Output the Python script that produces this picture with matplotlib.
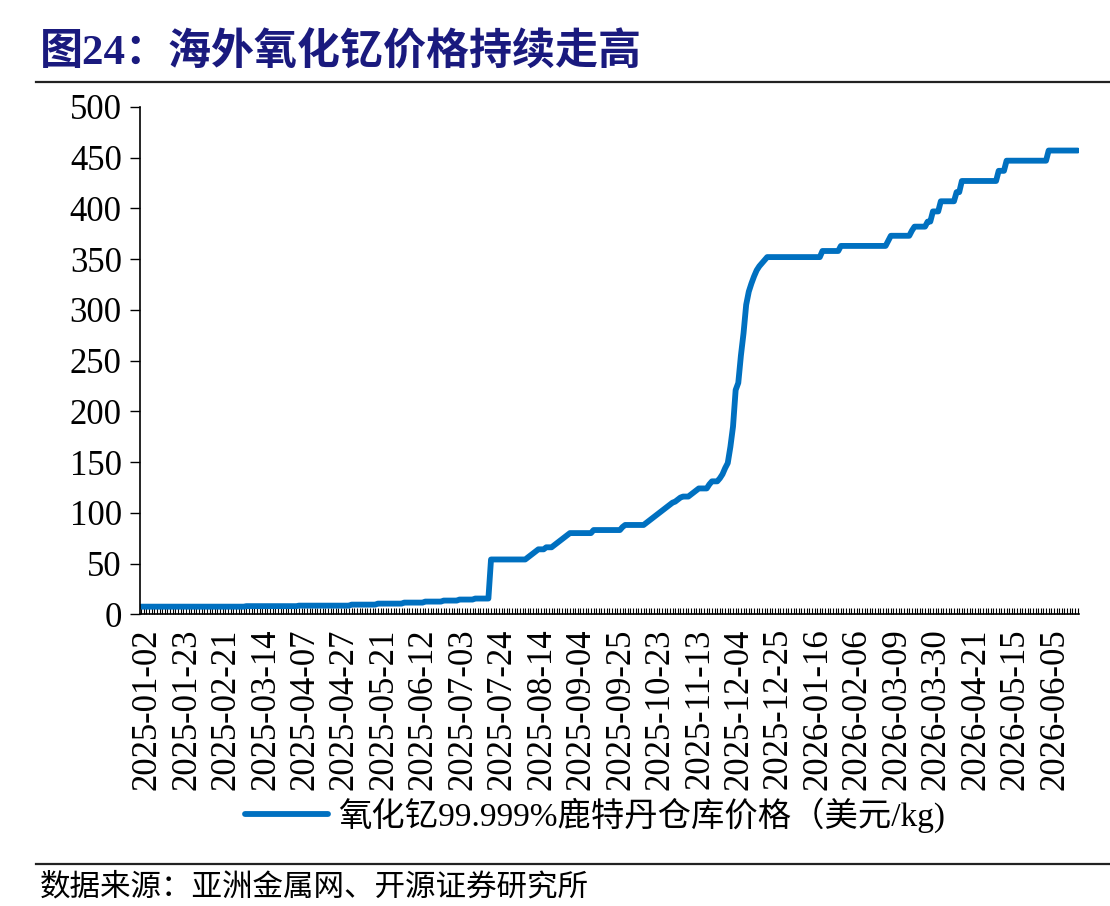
import numpy as np
import matplotlib
matplotlib.use("Agg")
import matplotlib.pyplot as plt
from matplotlib.lines import Line2D
from matplotlib.transforms import ScaledTranslation

plt.rcParams['font.family'] = ['Liberation Serif', 'Noto Sans CJK SC', 'DejaVu Sans']

# price data, stored as (level, number of days at that level), USD/kg
price_levels = [7.5, 8, 8.5, 9.5, 10.5, 11.5, 12.5, 13.5, 14.5, 15.5,
                54, 56, 58, 60, 62, 64, 66, 68, 70, 72, 74, 76, 78,
                80, 83, 86, 88, 90, 92, 94, 96, 98, 100, 102, 104, 106, 108, 110,
                111, 113, 115, 116, 118, 120, 122, 124, 128, 131, 134, 138, 144, 149,
                165, 185, 221, 228, 255, 277, 305, 318, 326, 333, 339, 343, 346, 349,
                352, 358, 363, 368, 373, 378, 382, 387, 397, 407, 416, 427, 437, 447, 457]
price_days = [40, 20, 20, 10, 10, 8, 7, 6, 6, 6,
              14, 1, 1, 1, 1, 3, 3, 1, 1, 1, 1, 1, 1,
              9, 11, 1, 8, 1, 1, 1, 1, 1, 1, 1, 1, 1, 1, 1,
              1, 1, 1, 3, 1, 1, 1, 4, 1, 3, 1, 1, 1, 1,
              1, 1, 1, 1, 1, 1, 1, 1, 1, 1, 1, 1, 1, 1,
              21, 7, 18, 1, 8, 1, 5, 2, 3, 6, 2, 14, 3, 16, 12]

date_labels = ['2025-01-02', '2025-01-23', '2025-02-21', '2025-03-14', '2025-04-07',
               '2025-04-27', '2025-05-21', '2025-06-12', '2025-07-03', '2025-07-24',
               '2025-08-14', '2025-09-04', '2025-09-25', '2025-10-23', '2025-11-13',
               '2025-12-04', '2025-12-25', '2026-01-16', '2026-02-06', '2026-03-09',
               '2026-03-30', '2026-04-21', '2026-05-15', '2026-06-05']
label_step = 15

prices = np.repeat(price_levels, price_days)
n = len(prices)
x = np.arange(n)

fig = plt.figure(figsize=(11.1, 9.06), dpi=100)
ax = fig.add_axes([0.126, 0.322, 0.846, 0.56])

ax.plot(x, prices, color='#0070C0', lw=4.2, solid_joinstyle='round',
        solid_capstyle='round', label='氧化钇99.999%鹿特丹仓库价格（美元/kg)')

ax.set_xlim(-0.5, n - 0.5)
ax.set_ylim(0, 500)
ax.set_yticks(np.arange(0, 501, 50))
ax.tick_params(axis='y', direction='out', length=7, width=1, labelsize=25, pad=6)

ax.set_xticks(np.arange(len(date_labels)) * label_step)
ax.set_xticklabels(date_labels, rotation=90)
ax.set_xticks(x, minor=True)
ax.tick_params(axis='x', which='both', direction='in', length=4, width=0.8,
               labelsize=25, pad=10)
shift = ScaledTranslation(6 / 100, 0, fig.dpi_scale_trans)
for lab in ax.get_xticklabels():
    lab.set_transform(lab.get_transform() + shift)

for s in ['top', 'right']:
    ax.spines[s].set_visible(False)
for s in ['left', 'bottom']:
    ax.spines[s].set_linewidth(1.2)

fig.legend(loc='center', bbox_to_anchor=(0.536, 0.100), frameon=False,
           fontsize=24, handlelength=2.5, handletextpad=0.3)

fig.text(0.036, 0.942, '图24：海外氧化钇价格持续走高', fontsize=31,
         fontweight='bold', color='#1a1a7e', va='center', ha='left')
fig.add_artist(Line2D([0.032, 1.0], [1 - 82 / 906] * 2, color='#222222', lw=1.6))
fig.add_artist(Line2D([0.032, 1.0], [1 - 864 / 906] * 2, color='#222222', lw=1.6))
fig.text(0.036, 0.004, '数据来源：亚洲金属网、开源证券研究所', fontsize=22,
         va='bottom', ha='left')

fig.savefig('out.png', dpi=100)
